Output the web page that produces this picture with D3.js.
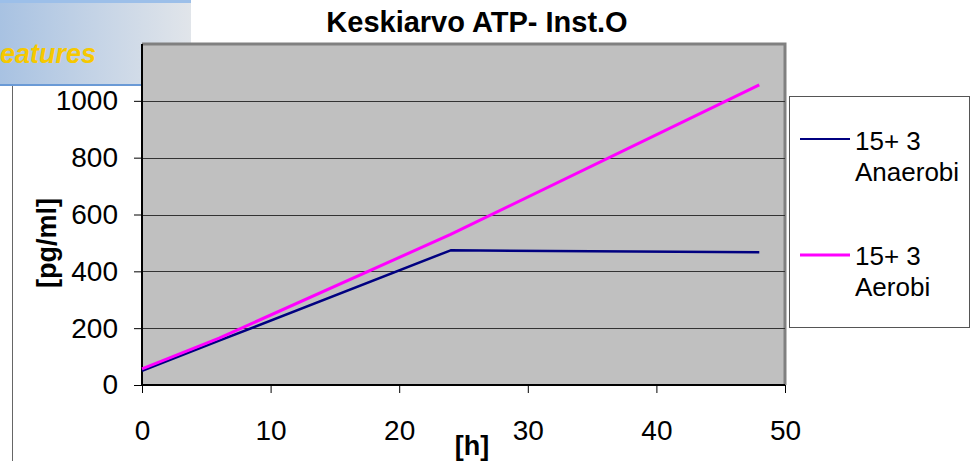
<!DOCTYPE html>
<html>
<head>
<meta charset="utf-8">
<script src="https://cdn.jsdelivr.net/npm/d3@7"></script>
<style>
  html, body { margin: 0; padding: 0; background: #fff; }
  svg { display: block; font-family: Arial, "Liberation Sans", sans-serif; }
</style>
</head>
<body>
<svg id="chart" width="976" height="461"></svg>
<script>
// Mean ATP concentration over time for two incubation conditions
const hours = [0, 6, 24, 48];
const anaerobi = [50, 156, 474, 467];
const aerobi = [57, 165, 530, 1056];
const xTicks = [0, 10, 20, 30, 40, 50];
const yTicks = [0, 200, 400, 600, 800, 1000];
const seriesNames = [["15+ 3", "Anaerobi"], ["15+ 3", "Aerobi"]];
const seriesColors = ["#000080", "#ff00ff"];

const svg = d3.select("#chart");
const plot = { left: 142, top: 44, right: 785, bottom: 385 };

const x = d3.scaleLinear().domain([0, 50]).range([plot.left, plot.right]);
const y = d3.scaleLinear().domain([0, 1200]).range([plot.bottom, plot.top]);

// header banner in the top-left corner
const grad = svg.append("defs").append("linearGradient")
  .attr("id", "banner").attr("x1", 0).attr("x2", 1).attr("y1", 0).attr("y2", 0);
grad.append("stop").attr("offset", "0%").attr("stop-color", "#a8c2e2");
grad.append("stop").attr("offset", "100%").attr("stop-color", "#e1e5ea");
svg.append("rect").attr("x", 0).attr("y", 0).attr("width", 191).attr("height", 86)
  .attr("fill", "url(#banner)");
svg.append("rect").attr("x", 0).attr("y", 0).attr("width", 191).attr("height", 3)
  .attr("fill", "#9cbfe9");
svg.append("rect").attr("x", 0).attr("y", 84).attr("width", 191).attr("height", 2)
  .attr("fill", "#6a9ad6");
svg.append("text").attr("x", 0).attr("y", 63)
  .attr("font-size", 27).attr("font-weight", "bold").attr("font-style", "italic")
  .attr("fill", "#f6c800").text("eatures");

// thin rule down the left side
svg.append("line").attr("x1", 12.5).attr("x2", 12.5).attr("y1", 86).attr("y2", 461)
  .attr("stroke", "#666").attr("stroke-width", 1);

// plot background
svg.append("rect")
  .attr("x", plot.left).attr("y", plot.top)
  .attr("width", plot.right - plot.left).attr("height", plot.bottom - plot.top)
  .attr("fill", "#c0c0c0");

// top and right frame
svg.append("path")
  .attr("d", `M${plot.left},${plot.top} H${plot.right} V${plot.bottom}`)
  .attr("fill", "none").attr("stroke", "#808080").attr("stroke-width", 3);

// horizontal gridlines
svg.append("g").selectAll("line").data(yTicks.filter(d => d > 0)).join("line")
  .attr("x1", plot.left).attr("x2", plot.right)
  .attr("y1", d => Math.round(y(d)) + 0.5).attr("y2", d => Math.round(y(d)) + 0.5)
  .attr("stroke", "#333").attr("stroke-width", 1);

// y axis
const yAxis = svg.append("g").attr("transform", `translate(${plot.left},0)`)
  .call(d3.axisLeft(y).tickValues(yTicks).tickSize(8).tickPadding(16).tickFormat(d3.format("d")));
yAxis.select(".domain").attr("stroke", "#000").attr("stroke-width", 2)
  .attr("d", `M0,${plot.top}V${plot.bottom}`);
yAxis.selectAll(".tick line").attr("stroke", "#000");
yAxis.selectAll(".tick text").attr("font-size", 28).attr("fill", "#000")
  .attr("font-family", "Arial, 'Liberation Sans', sans-serif");

// x axis
const xAxis = svg.append("g").attr("transform", `translate(0,${plot.bottom})`)
  .call(d3.axisBottom(x).tickValues(xTicks).tickSize(8).tickPadding(27));
xAxis.select(".domain").attr("stroke", "#000").attr("stroke-width", 2)
  .attr("d", `M${plot.left},0H${plot.right}`);
xAxis.selectAll(".tick line").attr("stroke", "#000");
xAxis.selectAll(".tick text").attr("font-size", 28).attr("fill", "#000")
  .attr("font-family", "Arial, 'Liberation Sans', sans-serif");

// series lines
const line = d3.line().x((d, i) => x(hours[i])).y(d => y(d));
[anaerobi, aerobi].forEach((vals, k) => {
  svg.append("path").datum(vals)
    .attr("d", line)
    .attr("fill", "none")
    .attr("stroke", seriesColors[k])
    .attr("stroke-width", k === 0 ? 2.5 : 3)
    .attr("stroke-linejoin", "round");
});

// title
svg.append("text").attr("x", 477).attr("y", 32).attr("text-anchor", "middle")
  .attr("font-size", 29).attr("font-weight", "bold").text("Keskiarvo ATP- Inst.O");

// axis titles
svg.append("text").attr("x", 472).attr("y", 455).attr("text-anchor", "middle")
  .attr("font-size", 27).attr("font-weight", "bold").text("[h]");
svg.append("text")
  .attr("transform", "translate(56,243) rotate(-90)")
  .attr("text-anchor", "middle")
  .attr("font-size", 27).attr("font-weight", "bold").text("[pg/ml]");

// legend
const legend = svg.append("g");
legend.append("rect").attr("x", 789.5).attr("y", 96.5).attr("width", 180).attr("height", 231)
  .attr("fill", "#fff").attr("stroke", "#555").attr("stroke-width", 1);
const legendRows = [{ ly: 139, t1: 150, t2: 181 }, { ly: 255, t1: 265, t2: 296 }];
legendRows.forEach((r, k) => {
  legend.append("line").attr("x1", 800).attr("x2", 850).attr("y1", r.ly).attr("y2", r.ly)
    .attr("stroke", seriesColors[k]).attr("stroke-width", k === 0 ? 2 : 3);
  legend.append("text").attr("x", 855).attr("y", r.t1).attr("font-size", 26).text(seriesNames[k][0]);
  legend.append("text").attr("x", 855).attr("y", r.t2).attr("font-size", 26).text(seriesNames[k][1]);
});
</script>
</body>
</html>
